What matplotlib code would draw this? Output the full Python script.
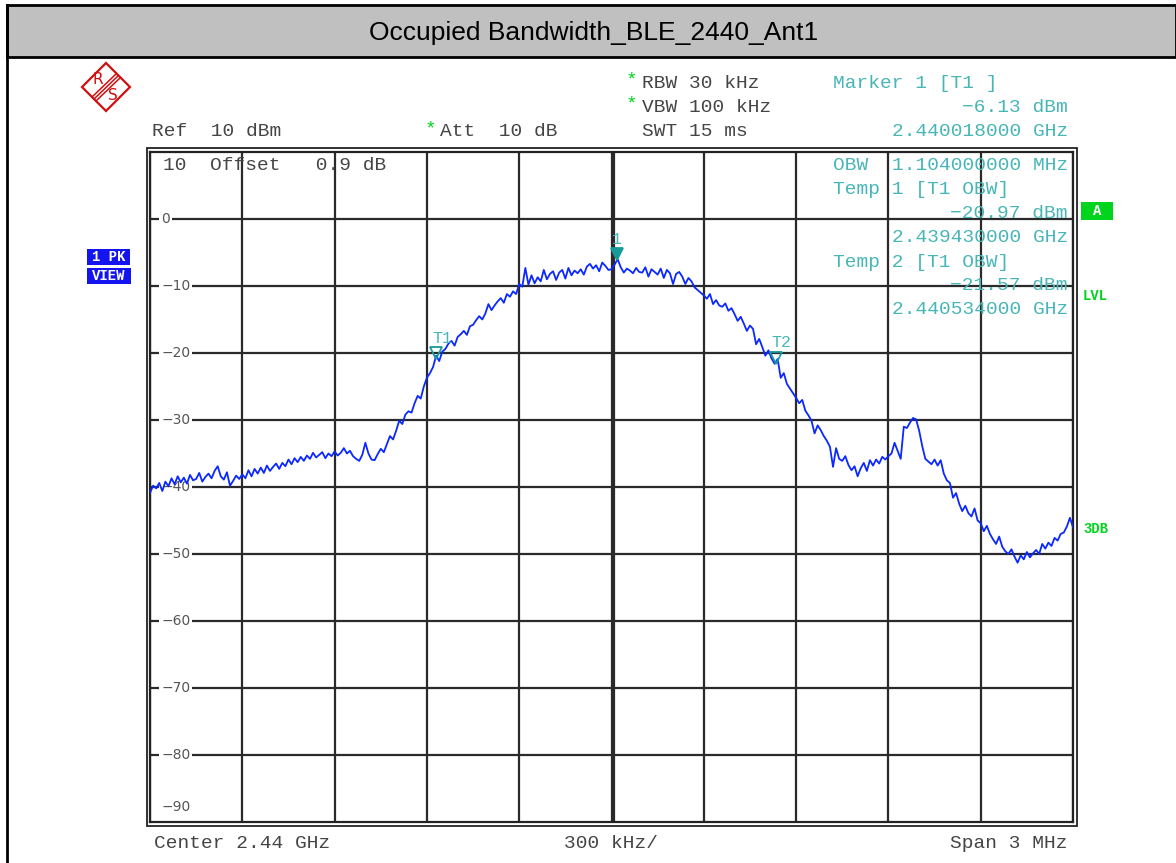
"""obw_ble_2440_ant1.py - R&S spectrum analyzer screenshot, occupied bandwidth"""
import numpy as np
import matplotlib
matplotlib.use("Agg")
import matplotlib.pyplot as plt
import matplotlib.patches as mpatches
import matplotlib.transforms as mtransforms

W, H = 1176, 863

# sweep: centre 2.44 GHz, span 3 MHz -> offset in MHz, 10 kHz per point
f_start, f_stop = -1.5, 1.5
level = [
    -40.9, -39.8, -40.2, -39.4, -40.6, -39.2, -39.9, -38.7, -39.6, -38.4,
    -39.3, -38.6, -39.5, -38.2, -39.0, -38.8, -37.9, -39.2, -38.5, -38.0,
    -38.7, -37.6, -36.9, -38.4, -38.9, -37.8, -39.8, -39.1, -38.3, -38.8,
    -38.1, -38.7, -37.5, -38.4, -37.3, -38.0, -37.1, -37.9, -36.8, -37.6,
    -37.0, -36.5, -37.3, -36.4, -36.9, -35.9, -36.6, -35.7, -36.3, -35.5,
    -36.1, -35.3, -35.8, -34.9, -35.6, -35.2, -34.8, -35.7, -35.0, -35.4,
    -34.7, -35.3, -34.9, -34.2, -35.0, -34.6, -35.4, -35.8, -36.1, -35.2,
    -33.4, -35.0, -35.9, -36.0, -35.1, -34.3, -34.8, -33.6, -32.4, -32.9,
    -31.6, -30.1, -30.6, -29.2, -28.7, -28.9, -27.5, -26.4, -26.8, -25.0,
    -23.7, -23.0, -22.1, -20.4, -21.2, -19.8, -19.4, -18.6, -18.2, -18.9,
    -17.6, -17.2, -16.7, -17.3, -16.0, -15.8, -15.1, -14.5, -15.0, -14.1,
    -12.7, -13.6, -12.9, -12.3, -11.8, -12.5, -11.2, -11.6, -10.8, -11.2,
    -9.7, -10.1, -7.3, -9.8, -8.4, -9.6, -8.7, -9.3, -7.6, -9.0,
    -8.2, -7.8, -9.1, -8.0, -7.6, -8.9, -7.3, -8.4, -7.7, -8.1,
    -7.5, -8.3, -7.1, -6.7, -7.4, -6.9, -7.8, -6.5, -7.0, -7.6,
    -7.5, -6.8, -6.0, -7.2, -8.0, -7.4, -7.7, -8.1, -7.3, -7.9,
    -8.0, -7.2, -8.6, -7.5, -7.9, -8.3, -7.4, -8.8, -7.6, -8.1,
    -9.7, -8.2, -7.9, -8.6, -9.7, -8.8, -9.3, -10.2, -10.6, -11.0,
    -11.4, -11.9, -11.2, -12.7, -12.1, -12.9, -13.1, -12.6, -13.7, -13.3,
    -14.2, -15.2, -14.6, -15.6, -16.7, -15.9, -16.4, -18.7, -17.9, -19.1,
    -20.4, -19.6, -20.8, -21.6, -20.9, -23.7, -23.0, -24.6, -25.3, -26.0,
    -26.7, -27.5, -27.0, -28.6, -29.3, -30.1, -32.0, -30.8, -31.5, -32.4,
    -33.1, -34.0, -37.0, -34.2, -35.8, -36.1, -35.4, -36.7, -37.5, -36.9,
    -38.4, -37.2, -36.4, -37.6, -36.0, -36.8, -35.9, -36.5, -35.5, -35.9,
    -35.4, -35.0, -33.4, -34.6, -35.8, -31.0, -31.2, -30.4, -29.7, -29.9,
    -31.6, -33.9, -35.8, -36.2, -36.6, -35.9, -36.8, -36.0, -38.0, -39.0,
    -39.4, -41.6, -40.9, -42.5, -43.6, -42.8, -43.9, -44.4, -43.2, -45.0,
    -45.4, -46.6, -45.8, -47.0, -47.8, -48.5, -47.4, -48.9, -49.6, -50.0,
    -49.3, -50.4, -51.3, -50.2, -50.8, -49.7, -50.5, -49.9, -49.4, -50.0,
    -48.5, -49.2, -48.3, -48.8, -47.6, -48.0, -47.0, -46.8, -45.9, -44.6,
    -46.0,
]
freq = np.linspace(f_start, f_stop, len(level))

mk_names = ["1", "T1", "T2"]
mk_freq = [0.018, -0.570, 0.534]
mk_level = [-6.13, -20.97, -21.57]
mk_filled = [True, False, False]

y_ticks = [0, -10, -20, -30, -40, -50, -60, -70, -80]
x_ticks = np.arange(-1.5, 1.51, 0.3)

TEAL = "#48b6b6"
TEAL_DK = "#169a9a"
TRACE = "#0a28ff"
GREEN = "#00d41c"
TXT = "#454545"
MONO = "Liberation Mono"

fig = plt.figure(figsize=(W / 100, H / 100), dpi=100)

# plot area in pixels: x 150..1073, y 152..822
ax = fig.add_axes([150 / W, 1 - 822 / H, 923 / W, 670 / H])
ax.set_xlim(f_start, f_stop)
ax.set_ylim(-90, 10)
ax.set_xticks(x_ticks)
ax.set_yticks(y_ticks)
ax.tick_params(length=0, labelbottom=False, labelleft=False)
ax.grid(True, color="#2a2a2a", lw=1.6)
for s in ax.spines.values():
    s.set_color("#222222")
    s.set_linewidth(1.6)
# double centre line
ctr = mtransforms.offset_copy(ax.get_xaxis_transform(), fig=fig, x=3, units="dots")
ax.plot([0, 0], [0, 1], color="#2a2a2a", lw=1.6, transform=ctr)

ax.plot(freq, level, color=TRACE, lw=1.3, zorder=6)

# y labels inside the grid
ytr = ax.get_yaxis_transform()
for v in y_ticks:
    ax.text(0.012, v, f"{v}".replace("-", "\u2212"), transform=ytr, ha="left", va="center",
            fontsize=10, color="#555555", zorder=3,
            bbox=dict(facecolor="white", edgecolor="none", pad=1.5))
ax.text(0.012, -87.8, "\u221290", transform=ytr, ha="left", va="center",
        fontsize=10, color="#555555", zorder=3)

# markers
for name, f, lv, filled in zip(mk_names, mk_freq, mk_level, mk_filled):
    tri = mtransforms.offset_copy(ax.transData, fig=fig, x=0, y=6, units="dots")
    ax.plot([f], [lv], marker="v", ms=8, mec=TEAL_DK, mew=1.3,
            mfc=TEAL_DK if filled else "none", transform=tri, zorder=7)
    lab = mtransforms.offset_copy(ax.transData, fig=fig, x=0 if filled else 6, y=21, units="dots")
    ax.text(f, lv, name, transform=lab, ha="center", va="center", fontsize=12,
            family=MONO, color=TEAL, zorder=7)

# overlay in pixel coordinates for the instrument annotations
ov = fig.add_axes([0, 0, 1, 1], zorder=5)
ov.set_xlim(0, W)
ov.set_ylim(H, 0)
ov.axis("off")

# title bar and outer border
ov.add_patch(mpatches.Rectangle((7, 5), W - 7, 52, facecolor="#c0c0c0", edgecolor="black", lw=2))
ov.plot([7, 7], [5, H], color="black", lw=2)
ov.text(594, 33, "Occupied Bandwidth_BLE_2440_Ant1", ha="center", va="center",
        fontsize=19, family="Liberation Sans", color="black")

# outer frame of the diagram (double line)
ov.add_patch(mpatches.Rectangle((146.5, 148.5), 930, 677.5, facecolor="none",
                                edgecolor="#222222", lw=1.3))

# R&S logo
cx, cy, r = 106, 87, 24
ov.add_patch(mpatches.Polygon([(cx, cy - r), (cx + r, cy), (cx, cy + r), (cx - r, cy)],
                              closed=True, facecolor="none", edgecolor="#d01010", lw=1.6))
for d in (-2, 0, 2):
    ov.plot([118 + d, 94 + d], [76 + d, 99 + d], color="#d01010", lw=1.1)
ov.text(98, 79, "R", ha="center", va="center", fontsize=11, color="#d01010")
ov.text(113, 96, "S", ha="center", va="center", fontsize=11, color="#d01010")

# settings text
mono = dict(family=MONO, fontsize=14, va="center")
ov.text(152, 132, "Ref  10 dBm", ha="left", color=TXT, **mono)
ov.text(425, 129, "*", ha="left", color=GREEN, **mono)
ov.text(440, 132, "Att  10 dB", ha="left", color=TXT, **mono)
ov.text(626, 80, "*", ha="left", color=GREEN, **mono)
ov.text(642, 84, "RBW 30 kHz", ha="left", color=TXT, **mono)
ov.text(626, 104, "*", ha="left", color=GREEN, **mono)
ov.text(642, 108, "VBW 100 kHz", ha="left", color=TXT, **mono)
ov.text(642, 132, "SWT 15 ms", ha="left", color=TXT, **mono)
ov.text(163, 166, "10  Offset   0.9 dB", ha="left", color=TXT, **mono)

# marker readout
ov.text(833, 84, "Marker 1 [T1 ]", ha="left", color=TEAL, **mono)
ov.text(1068, 108, "\u22126.13 dBm", ha="right", color=TEAL, **mono)
ov.text(1068, 132, "2.440018000 GHz", ha="right", color=TEAL, **mono)
ov.text(833, 165, "OBW", ha="left", color=TEAL, **mono)
ov.text(1068, 165, "1.104000000 MHz", ha="right", color=TEAL, **mono)
ov.text(833, 189, "Temp 1 [T1 OBW]", ha="left", color=TEAL, **mono)
ov.text(1068, 213, "\u221220.97 dBm", ha="right", color=TEAL, **mono)
ov.text(1068, 237, "2.439430000 GHz", ha="right", color=TEAL, **mono)
ov.text(833, 262, "Temp 2 [T1 OBW]", ha="left", color=TEAL, **mono)
ov.text(1068, 285, "\u221221.57 dBm", ha="right", color=TEAL, **mono)
ov.text(1068, 309, "2.440534000 GHz", ha="right", color=TEAL, **mono)

# bottom axis text
ov.text(154, 843, "Center 2.44 GHz", ha="left", color=TXT, **mono)
ov.text(611, 843, "300 kHz/", ha="center", color=TXT, **mono)
ov.text(1068, 843, "Span 3 MHz", ha="right", color=TXT, **mono)

# side labels
ov.add_patch(mpatches.Rectangle((87, 249), 43, 16, facecolor="#1414f0", edgecolor="none"))
ov.add_patch(mpatches.Rectangle((87, 268), 44, 16, facecolor="#1414f0", edgecolor="none"))
ov.text(108.5, 257, "1 PK", ha="center", va="center", family=MONO, fontsize=10,
        fontweight="bold", color="white")
ov.text(109, 276, "VIEW", ha="center", va="center", family=MONO, fontsize=10,
        fontweight="bold", color="white")
ov.add_patch(mpatches.Rectangle((1081, 202), 32, 18, facecolor=GREEN, edgecolor="none"))
ov.text(1097, 211, "A", ha="center", va="center", family=MONO, fontsize=10,
        fontweight="bold", color="white")
ov.text(1083, 296, "LVL", ha="left", va="center", family=MONO, fontsize=10,
        fontweight="bold", color=GREEN)
ov.text(1083, 529, "3DB", ha="left", va="center", family=MONO, fontsize=10,
        fontweight="bold", color=GREEN)

fig.savefig("out.png", dpi=100, facecolor="white")
print("saved out.png")
